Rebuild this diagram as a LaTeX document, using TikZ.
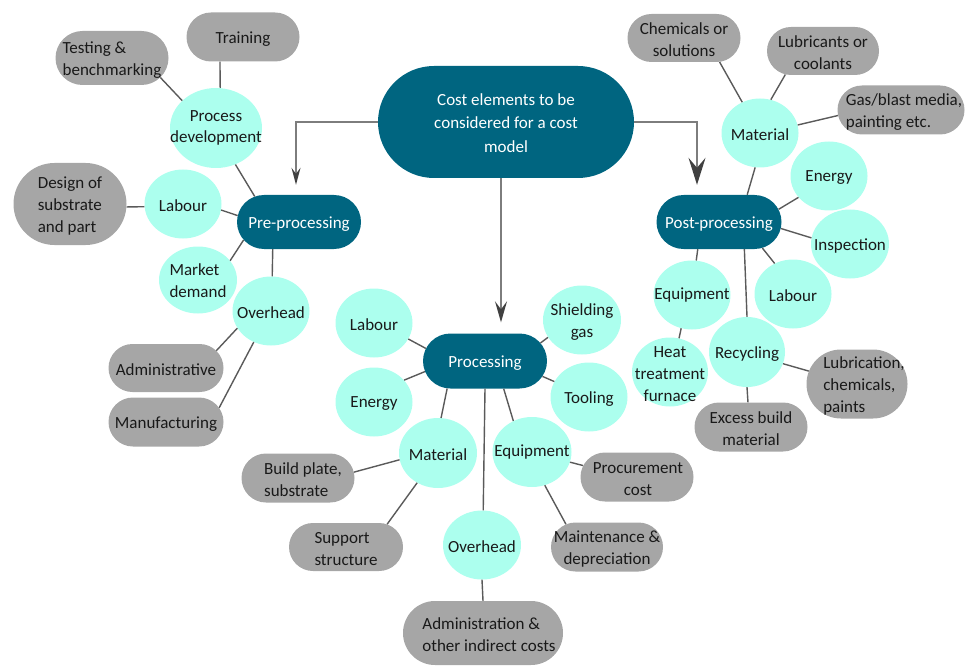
\documentclass[tikz,border=0pt]{standalone}
\usepackage{fontspec}
\setmainfont{Carlito}
\usetikzlibrary{shapes.geometric,shapes.misc,arrows.meta}
\definecolor{dteal}{RGB}{0,101,128}
\definecolor{lcyan}{RGB}{172,255,238}
\definecolor{lgray}{RGB}{166,166,166}
\definecolor{lnkc}{RGB}{90,90,90}
\definecolor{arrc}{RGB}{125,125,125}
\definecolor{arrh}{RGB}{64,64,64}
\definecolor{txtc}{RGB}{25,25,25}
\begin{document}
\begin{tikzpicture}[x=1pt,y=-1pt,
  cy/.style={ellipse,fill=lcyan,draw=none,inner sep=0pt,minimum width=77pt,minimum height=69pt},
  gr/.style={rounded rectangle,fill=lgray,draw=none,inner sep=0pt,minimum width=113pt,minimum height=49pt},
  dk/.style={rounded rectangle,fill=dteal,draw=none,inner sep=0pt,minimum width=124pt,minimum height=54pt},
  tx/.style={font=\fontsize{17}{21.7}\selectfont,align=center,inner sep=0pt,text=txtc,yshift=-2pt},
  tl/.style={tx,align=left},
  tw/.style={tx,text=white},
  lnk/.style={draw=lnkc,line width=1.4pt},
  arr/.style={draw=arrc,line width=1.5pt}]
\useasboundingbox (0,0) rectangle (965,668);

% main nodes
\node[dk,minimum width=256pt,minimum height=112pt,
  label={[tw,yshift=1pt,font=\fontsize{17}{23.3}\selectfont]center:{Cost elements to be\\considered for a cost\\model}}] (top) at (506,122) {};
\node[dk,label={[tw]center:{Pre-processing}}] (pre) at (299,222) {};
\node[dk,minimum width=125pt,label={[tw]center:{Post-processing}}] (post) at (719,222) {};
\node[dk,minimum height=55pt,label={[tw]center:{Processing}}] (proc) at (485,361) {};

% pre-processing branch
\node[cy,minimum width=92pt,minimum height=80pt,label={[tx,yshift=2pt]center:{Process\\development}}] (pd) at (216,128) {};
\node[gr,label={[tx]center:{Training}}] (train) at (243,37) {};
\node[gr,minimum height=54pt,label={[tl]center:{Testing \&\\benchmarking}}] (test) at (112,58) {};
\node[gr,minimum height=82pt,label={[tl]center:{Design of\\substrate\\and part}}] (design) at (70,204) {};
\node[cy,label={[tx]center:{Labour}}] (plab) at (183,204) {};
\node[cy,minimum width=78pt,minimum height=67pt,label={[tl,yshift=1pt]center:{Market\\demand}}] (mkt) at (198,280) {};
\node[cy,label={[tx]center:{Overhead}}] (pov) at (271,311) {};
\node[gr,minimum width=115pt,minimum height=48pt,label={[tx]center:{Administrative}}] (padm) at (166,368) {};
\node[gr,minimum width=115pt,label={[tx]center:{Manufacturing}}] (pman) at (166,422) {};

% post-processing branch
\node[gr,minimum height=48pt,label={[tx]center:{Chemicals or\\solutions}}] (chem) at (684,38) {};
\node[gr,minimum width=112pt,minimum height=48pt,label={[tx]center:{Lubricants or\\coolants}}] (lubc) at (823,51) {};
\node[gr,minimum width=127pt,label={[tl,xshift=3pt]center:{Gas/blast media,\\painting etc.}}] (gas) at (901,110) {};
\node[cy,label={[tx]center:{Material}}] (qmat) at (760,133) {};
\node[cy,label={[tx]center:{Energy}}] (qen) at (829,176) {};
\node[cy,minimum width=78pt,label={[tx]center:{Inspection}}] (insp) at (850,244) {};
\node[cy,label={[tx]center:{Labour}}] (qlab) at (793,294) {};
\node[cy,label={[tx,yshift=2pt]center:{Equipment}}] (qeq) at (692,295) {};
\node[cy,minimum width=76pt,label={[tx]center:{Heat\\treatment\\furnace}}] (heat) at (670,372) {};
\node[cy,minimum width=76pt,minimum height=70pt,label={[tx]center:{Recycling}}] (rec) at (747,352) {};
\node[gr,minimum width=101pt,minimum height=69pt,label={[tl,xshift=7pt]center:{Lubrication,\\chemicals,\\paints}}] (lubr) at (857,384) {};
\node[gr,label={[tx]center:{Excess build\\material}}] (exc) at (751,427) {};

% processing branch
\node[cy,label={[tx]center:{Labour}}] (clab) at (374,323) {};
\node[cy,label={[tx]center:{Energy}}] (cen) at (374,402) {};
\node[cy,minimum width=78pt,label={[tx]center:{Shielding\\gas}}] (shg) at (582,320) {};
\node[cy,label={[tx]center:{Tooling}}] (tool) at (589,397) {};
\node[cy,minimum width=78pt,minimum height=70pt,label={[tx]center:{Material}}] (cmat) at (438,453) {};
\node[cy,minimum width=79pt,minimum height=70pt,label={[tx,yshift=2pt]center:{Equipment}}] (ceq) at (532,452) {};
\node[cy,minimum width=78pt,label={[tx]center:{Overhead}}] (cov) at (482,545) {};
\node[gr,label={[tl,xshift=5pt]center:{Build plate,\\substrate}}] (build) at (298,478) {};
\node[gr,minimum width=114pt,minimum height=48pt,label={[tl]center:{Support\\structure}}] (supp) at (346,547) {};
\node[gr,label={[tx,xshift=1pt]center:{Procurement\\cost}}] (procc) at (637,477) {};
\node[gr,minimum width=112pt,label={[tx]center:{Maintenance \&\\depreciation}}] (maint) at (607,547) {};
\node[gr,minimum width=160pt,minimum height=64pt,label={[tl,xshift=6pt]center:{Administration \&\\other indirect costs}}] (cadm) at (483,633) {};

% connectors
\draw[lnk] (train.227) -- (pd.84);
\draw[lnk] (test.338) -- (pd.141);
\draw[lnk] (pd.298) -- (pre.150);
\draw[lnk] (design.357) -- (plab.184);
\draw[lnk] (plab.351) -- (pre.174);
\draw[lnk] (mkt.31) -- (pre.198);
\draw[lnk] (pov.88) -- (pre.226);
\draw[lnk] (padm.19) -- (pov.207);
\draw[lnk] (pman.15) -- (pov.241);

\draw[lnk] (chem.326) -- (qmat.120);
\draw[lnk] (lubc.212) -- (qmat.72);
\draw[lnk] (gas.185) -- (qmat.12);
\draw[lnk] (qmat.262) -- (post.44);
\draw[lnk] (qen.215) -- (post.12);
\draw[lnk] (insp.171) -- (post.354);
\draw[lnk] (qlab.121) -- (post.329);
\draw[lnk] (qeq.83) -- (post.232);
\draw[lnk] (rec.90) -- (post.313);
\draw[lnk] (heat.75) -- (qeq.252);
\draw[lnk] (lubr.165) -- (rec.342);
\draw[lnk] (exc.97) -- (rec.270);

\draw[lnk] (clab.335) -- (proc.168);
\draw[lnk] (cen.36) -- (proc.190);
\draw[lnk] (shg.207) -- (proc.18);
\draw[lnk] (tool.156) -- (proc.345);
\draw[lnk] (cmat.85) -- (proc.216);
\draw[lnk] (cov.88) -- (proc.270);
\draw[lnk] (ceq.121) -- (proc.304);
\draw[lnk] (build.6) -- (cmat.190);
\draw[lnk] (supp.29) -- (cmat.235);
\draw[lnk] (procc.168) -- (ceq.345);
\draw[lnk] (maint.151) -- (ceq.291);
\draw[lnk] (cadm.90) -- (cov.270);

% arrows from the main node
\draw[arr,-{Stealth[length=17pt,width=9pt,inset=6pt,color=arrh]},shorten >=10pt]
  (top.west) -| ([xshift=-3pt]pre.north);
\draw[arr,-{Stealth[length=27pt,width=17pt,inset=10pt,color=arrh]},shorten >=10pt]
  (top.east) -| ([xshift=-22pt]post.north);
\draw[arr,-{Stealth[length=21pt,width=12pt,inset=8pt,color=arrh]},shorten >=11pt]
  ([xshift=-5pt]top.south) -- ([xshift=16pt]proc.north);
\end{tikzpicture}
\end{document}
